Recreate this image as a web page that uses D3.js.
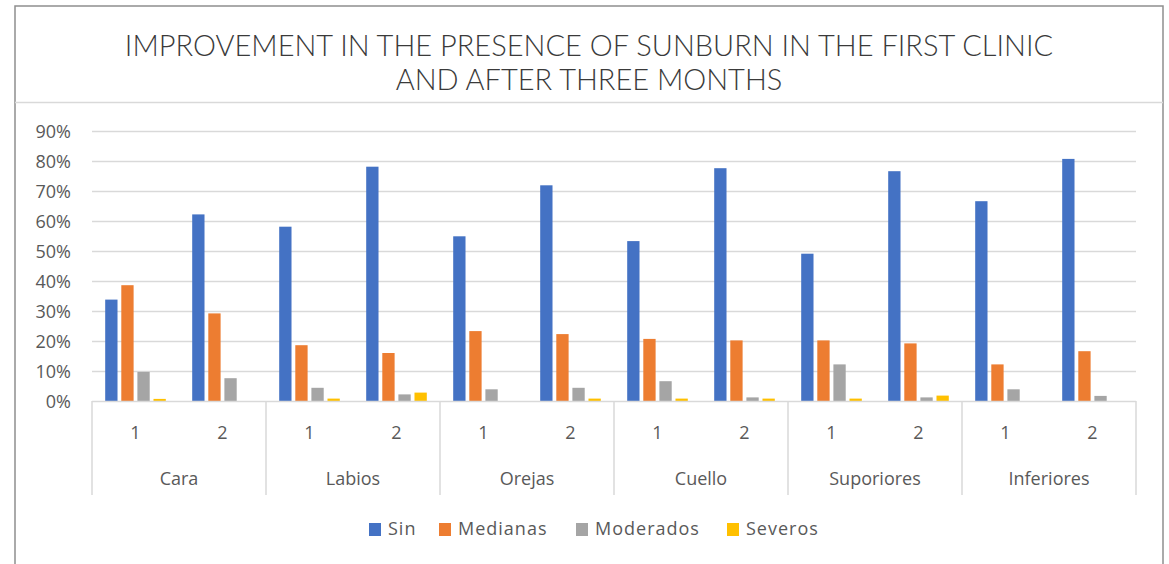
<!DOCTYPE html>
<html>
<head>
<meta charset="utf-8">
<script src="https://cdn.jsdelivr.net/npm/d3@7"></script>
<style>
  html, body { margin: 0; padding: 0; background: #fff; }
  svg { display: block; }
</style>
</head>
<body>
<svg id="chart" width="1169" height="564"></svg>
<script>
// ---- data ----
const titleLines = ["IMPROVEMENT IN THE PRESENCE OF SUNBURN IN THE FIRST CLINIC", "AND AFTER THREE MONTHS"];
const categories = ["Cara", "Labios", "Orejas", "Cuello", "Suporiores", "Inferiores"];
const subcats = ["1", "2"];
const seriesNames = ["Sin", "Medianas", "Moderados", "Severos"];
const seriesColors = ["#4472C4", "#ED7D31", "#A5A5A5", "#FFC000"];
// values in % , order: Cara1, Cara2, Labios1, Labios2, ...
const sin       = [33.8, 62.2, 58.1, 78.1, 54.9, 71.9, 53.3, 77.6, 49.1, 76.6, 66.6, 80.7];
const medianas  = [38.6, 29.2, 18.6, 16.0, 23.3, 22.3, 20.7, 20.2, 20.2, 19.2, 12.2, 16.6];
const moderados = [9.7, 7.6, 4.4, 2.2, 3.9, 4.4, 6.6, 1.2, 12.2, 1.2, 3.9, 1.7];
const severos   = [0.7, 0, 0.8, 2.8, 0, 0.8, 0.8, 0.8, 0.8, 1.8, 0, 0];
const yTicks = [0, 10, 20, 30, 40, 50, 60, 70, 80, 90];

const seriesValues = [sin, medianas, moderados, severos];

// ---- layout ----
const svg = d3.select("#chart");
const W = 1169, H = 564;
const plotL = 92, plotR = 1136, plotT = 131, plotB = 401;
const axisFont = "'Open Sans', 'Noto Sans', sans-serif";
const textGray = "#595959";
const gridGray = "#d9d9d9";

// frame
svg.append("path")
  .attr("d", `M15,${H} V6 H1163 V${H}`)
  .attr("fill", "none").attr("stroke", "#8f8f8f").attr("stroke-width", 1.5);
svg.append("line").attr("x1", 15).attr("x2", 1163).attr("y1", 102.5).attr("y2", 102.5)
  .attr("stroke", gridGray).attr("stroke-width", 1.5);

// title
const title = svg.append("text")
  .attr("text-anchor", "middle")
  .attr("font-family", "Lato, sans-serif")
  .attr("font-weight", 300)
  .attr("font-size", 29)
  .attr("fill", "#3a3a3a");
titleLines.forEach((t, i) => {
  title.append("tspan").attr("x", 589).attr("y", 56 + i * 34).text(t);
});

// scales
const y = d3.scaleLinear().domain([0, 90]).range([plotB, plotT]);
const x0 = d3.scaleBand().domain(categories).range([plotL, plotR]).padding(0);
const x1 = d3.scaleBand().domain(subcats).range([0, x0.bandwidth()]).padding(0);
const x2 = d3.scaleBand().domain(seriesNames).range([0, x1.bandwidth()])
  .paddingInner(0.235).paddingOuter(0.82);

// gridlines
svg.append("g").selectAll("line").data(yTicks.filter(d => d > 0)).join("line")
  .attr("x1", plotL).attr("x2", plotR)
  .attr("y1", d => Math.round(y(d)) + 0.5).attr("y2", d => Math.round(y(d)) + 0.5)
  .attr("stroke", gridGray).attr("stroke-width", 1.5);

// y axis labels
const yAxis = d3.axisLeft(y).tickValues(yTicks).tickFormat(d => d + "%").tickSize(0).tickPadding(0);
const yg = svg.append("g").attr("transform", `translate(71,0)`).call(yAxis);
yg.select(".domain").remove();
yg.selectAll("text").attr("font-family", axisFont).attr("font-size", 18)
  .attr("fill", textGray).attr("dy", "0.35em");

// bars
const rows = [];
categories.forEach((c, ci) => {
  subcats.forEach((s, si) => {
    const idx = ci * subcats.length + si;
    seriesNames.forEach((n, ni) => {
      rows.push({ c, s, n, ni, v: seriesValues[ni][idx] });
    });
  });
});
svg.append("g").selectAll("rect").data(rows.filter(d => d.v > 0)).join("rect")
  .attr("x", d => x0(d.c) + x1(d.s) + x2(d.n))
  .attr("width", x2.bandwidth())
  .attr("y", d => y(d.v))
  .attr("height", d => y(0) - y(d.v))
  .attr("fill", d => seriesColors[d.ni]);

// x axis line
svg.append("line").attr("x1", plotL).attr("x2", plotR)
  .attr("y1", plotB + 0.5).attr("y2", plotB + 0.5)
  .attr("stroke", gridGray).attr("stroke-width", 1.5);

// category separators
const seps = categories.map(c => x0(c)).concat([plotR]);
svg.append("g").selectAll("line").data(seps).join("line")
  .attr("x1", d => d).attr("x2", d => d)
  .attr("y1", plotB).attr("y2", 495)
  .attr("stroke", gridGray).attr("stroke-width", 1.5);

// sub labels
const subRows = [];
categories.forEach(c => subcats.forEach(s => subRows.push({ c, s })));
svg.append("g").selectAll("text").data(subRows).join("text")
  .attr("x", d => x0(d.c) + x1(d.s) + x1.bandwidth() / 2)
  .attr("y", 433).attr("dy", "0.35em")
  .attr("text-anchor", "middle")
  .attr("font-family", axisFont).attr("font-size", 18).attr("fill", textGray)
  .text(d => d.s);

// category labels
svg.append("g").selectAll("text").data(categories).join("text")
  .attr("x", d => x0(d) + x0.bandwidth() / 2)
  .attr("y", 479).attr("dy", "0.35em")
  .attr("text-anchor", "middle")
  .attr("font-family", axisFont).attr("font-size", 18).attr("fill", textGray)
  .text(d => d);

// legend
const legendX = [369, 439, 576, 727];
const lg = svg.append("g");
seriesNames.forEach((n, i) => {
  lg.append("rect").attr("x", legendX[i]).attr("y", 523).attr("width", 12).attr("height", 13)
    .attr("fill", seriesColors[i]);
  lg.append("text").attr("x", legendX[i] + 19).attr("y", 529).attr("dy", "0.35em")
    .attr("font-family", axisFont).attr("font-size", 18).attr("fill", textGray)
    .attr("letter-spacing", 1)
    .text(n);
});
</script>
</body>
</html>
